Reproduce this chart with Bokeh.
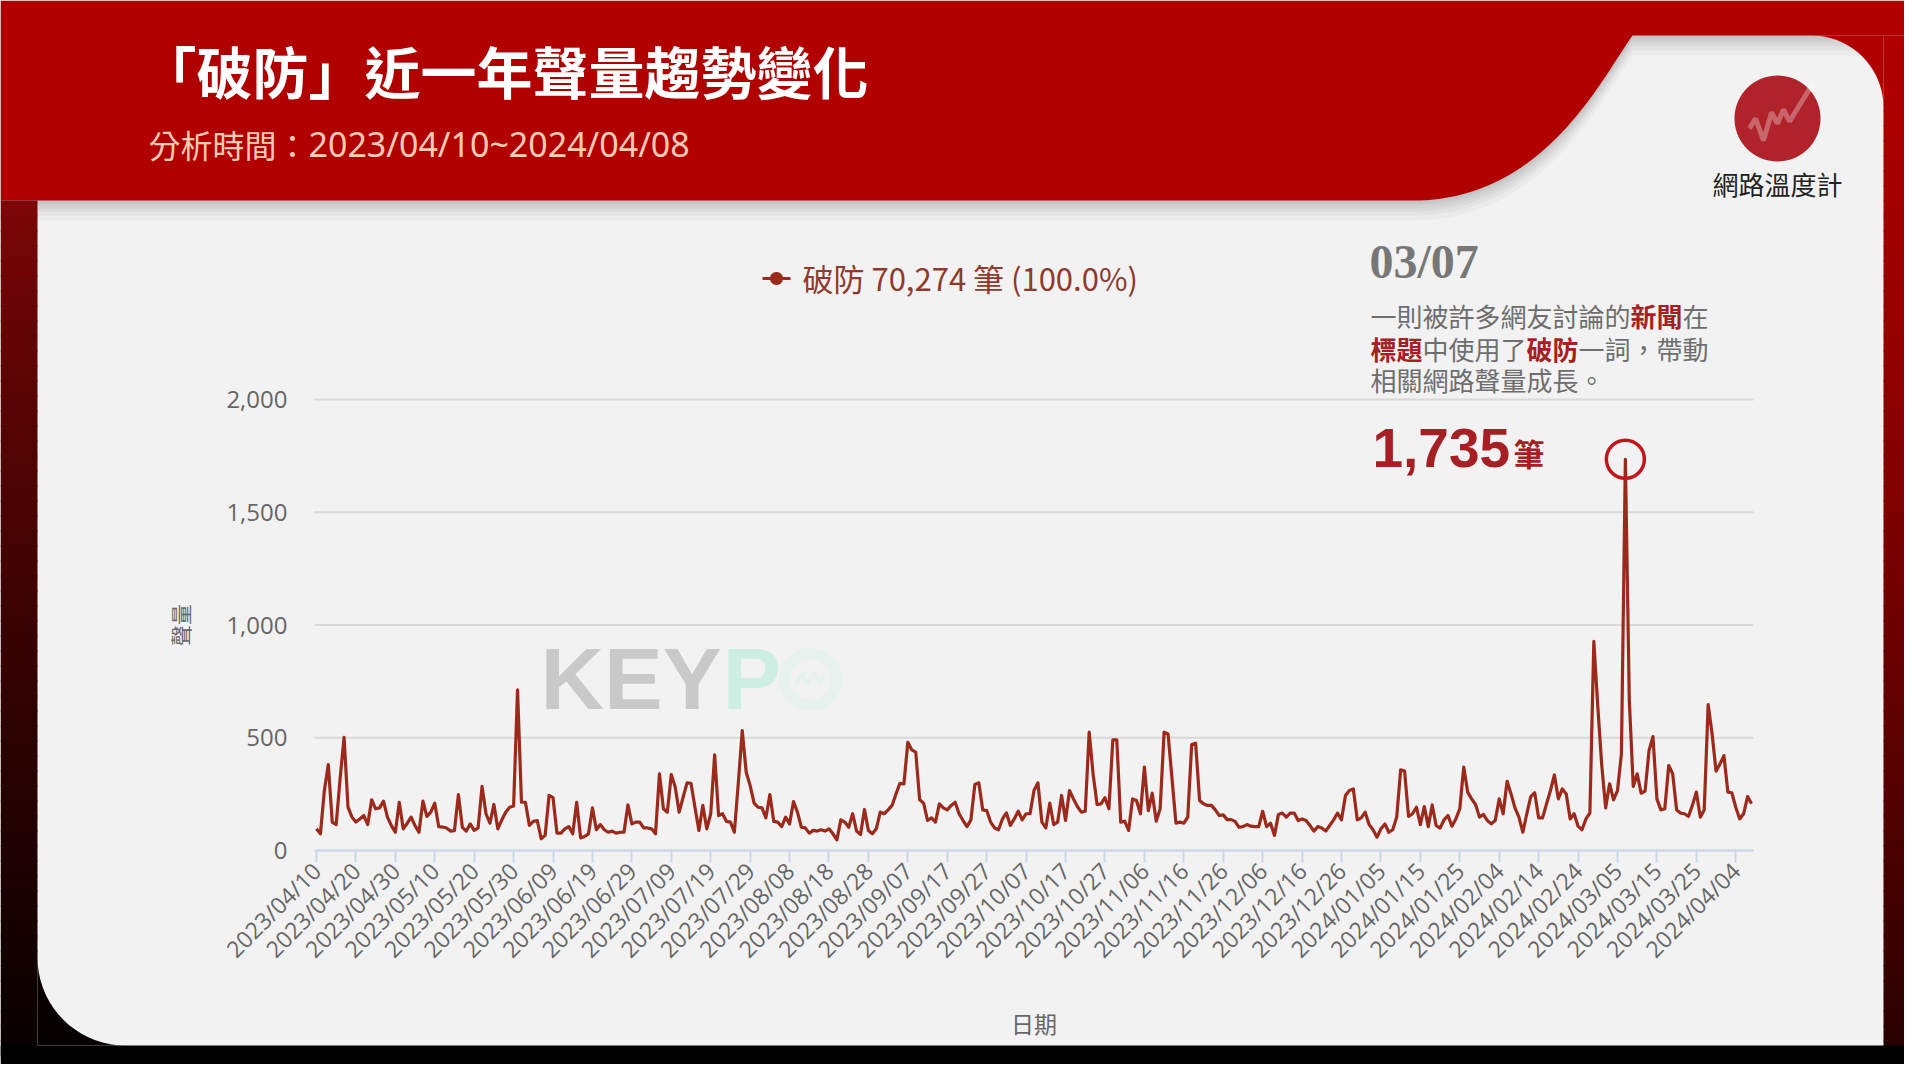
import math
import numpy as np
import pandas as pd
from bokeh.plotting import figure
from bokeh.models import (Range1d, FixedTicker, DatetimeTickFormatter,
                          NumeralTickFormatter, Label, PolyAnnotation, ColumnDataSource)
from bokeh.embed import file_html
from bokeh.resources import INLINE

# ---------------- data ----------------
start_date = "2023-04-10"
end_date = "2024-04-08"
volume = [
    96, 74, 266, 381, 126, 115, 320, 502, 192, 148,
    126, 140, 155, 115, 225, 185, 189, 219, 148, 110,
    81, 214, 96, 120, 148, 110, 81, 219, 151, 170,
    210, 106, 104, 100, 86, 88, 248, 103, 86, 118,
    89, 100, 284, 163, 121, 204, 96, 135, 170, 192,
    197, 712, 214, 214, 111, 129, 133, 52, 67, 244,
    234, 77, 77, 96, 106, 74, 214, 56, 62, 74,
    189, 92, 115, 92, 81, 86, 77, 81, 81, 202,
    118, 126, 126, 100, 100, 96, 74, 340, 185, 170,
    337, 281, 170, 236, 300, 298, 192, 89, 200, 96,
    163, 424, 155, 163, 129, 126, 81, 300, 532, 347,
    288, 210, 192, 189, 145, 248, 129, 126, 106, 148,
    118, 217, 170, 103, 100, 77, 89, 86, 92, 86,
    96, 74, 47, 136, 126, 103, 163, 86, 71, 182,
    89, 74, 96, 170, 163, 180, 200, 251, 298, 295,
    480, 446, 436, 225, 210, 133, 145, 126, 207, 189,
    180, 200, 214, 163, 133, 106, 136, 293, 300, 180,
    177, 126, 100, 92, 140, 167, 111, 140, 174, 136,
    163, 163, 266, 300, 126, 100, 210, 115, 126, 244,
    133, 266, 229, 195, 170, 174, 525, 337, 204, 207,
    234, 185, 491, 491, 126, 130, 89, 229, 222, 163,
    370, 177, 254, 130, 185, 525, 517, 320, 121, 126,
    121, 148, 470, 476, 222, 207, 200, 200, 180, 155,
    158, 137, 137, 129, 103, 106, 115, 108, 106, 106,
    174, 106, 121, 67, 160, 166, 148, 166, 166, 133,
    140, 133, 111, 86, 106, 100, 86, 111, 136, 166,
    136, 244, 266, 273, 136, 145, 170, 115, 92, 59,
    96, 118, 81, 92, 148, 358, 352, 151, 163, 192,
    115, 195, 106, 202, 111, 99, 136, 155, 108, 140,
    185, 370, 259, 229, 204, 148, 160, 133, 118, 133,
    229, 163, 307, 251, 189, 148, 81, 163, 239, 256,
    145, 145, 207, 266, 335, 229, 273, 251, 140, 163,
    108, 92, 140, 166, 927, 640, 380, 189, 296, 225,
    266, 429, 1735, 665, 284, 340, 254, 263, 443, 505,
    229, 180, 185, 377, 340, 180, 166, 163, 151, 200,
    259, 148, 180, 647, 517, 352, 384, 421, 259, 256,
    192, 140, 163, 239, 207,
]
y_ticks = [0, 500, 1000, 1500, 2000]
tick_every_days = 10
series_name = "破防"
series_total = "70,274"
series_share = "(100.0%)"
title_text = "「破防」近一年聲量趨勢變化"
subtitle_head = "分析時間："
subtitle_range = "2023/04/10~2024/04/08"
brand_text = "網路溫度計"
note_date = "03/07"
note_unit = "筆"
x_axis_title = "日期"
y_axis_title = "聲量"

# ---------------- layout (reference pixel space) ----------------
W, H = 1904, 1064
OX, OY = 0, 0
FL, FR, FT, FB = 314, 1753, 399, 850   # chart area in reference pixels

RED = "#b00000"
LINE = "#9c2a1c"
NOTE_RED = "#a51f24"
GRAY = "#6e6e6e"

dates = pd.date_range(start_date, end_date, freq="D")
ms = dates.values.astype("datetime64[ms]").astype(np.int64).astype(float)
DAY = 86400000.0
x0, x1 = ms[0] - DAY / 2, ms[-1] + DAY / 2
y0, y1 = y_ticks[0], y_ticks[-1]
kx = (x1 - x0) / (FR - FL)
ky = (y1 - y0) / (FB - FT)


def fx(X):
    return x0 + (X - FL) * kx


def fy(Y):
    return y0 + (FB - Y) * ky


src = ColumnDataSource(dict(date=dates, volume=volume))

p = figure(width=W, height=H, x_axis_type="datetime", title=None,
           output_backend="svg", toolbar_location=None,
           x_range=Range1d(fx(OX), fx(OX + W)), y_range=Range1d(fy(OY + H), fy(OY)),
           min_border=0)
p.min_border_left = p.min_border_right = p.min_border_top = p.min_border_bottom = 0
p.background_fill_color = "#f2f2f2"
p.border_fill_color = "#f2f2f2"
p.outline_line_color = None
p.xgrid.visible = False
p.ygrid.visible = False


def label(X, Y, text, size, color, font="Noto Sans CJK TC", bold=False,
          align="left", baseline="middle", level="annotation"):
    p.add_layout(Label(x=fx(X), y=fy(Y), text=text, text_font_size=f"{size}px",
                       text_color=color, text_font=font,
                       text_font_style="bold" if bold else "normal",
                       text_align=align, text_baseline=baseline, level=level))


def poly(pts, color, alpha=1.0, line_color=None, line_width=0, level="image"):
    p.add_layout(PolyAnnotation(xs=[fx(a) for a, b in pts], ys=[fy(b) for a, b in pts],
                                fill_color=color, fill_alpha=alpha,
                                line_color=line_color, line_width=line_width, level=level))


def circle_pts(cx, cy, r, n=72):
    return [(cx + r * math.cos(2 * math.pi * k / n), cy + r * math.sin(2 * math.pi * k / n)) for k in range(n)]


def bezier(p0, p1, p2, p3, n=40):
    out = []
    for k in range(n + 1):
        t = k / n
        a, b, c, d = (1 - t) ** 3, 3 * (1 - t) ** 2 * t, 3 * (1 - t) * t ** 2, t ** 3
        out.append((a * p0[0] + b * p1[0] + c * p2[0] + d * p3[0],
                    a * p0[1] + b * p1[1] + c * p2[1] + d * p3[1]))
    return out


def mix(c0, c1, t):
    return "#%02x%02x%02x" % tuple(int(round(c0[i] + (c1[i] - c0[i]) * t)) for i in range(3))


# ---------------- background decoration ----------------
CARD_L, CARD_R, CARD_B, CARD_T = 37, 1883, 1045, 35
curve = bezier((1632, CARD_T), (1600, 80), (1545, 195), (1420, 200))
banner = [(0, 0), (1920, 0), (1920, CARD_T)] + curve + [(0, 200)]
for dy in (20, 15, 11, 8, 5, 3):
    poly([(x, y + dy) for x, y in banner], "#000000", alpha=0.03)
poly(banner, RED)

for i in range(0, 1045 - CARD_T, 15):
    ya = CARD_T + i
    t = i / (1045 - CARD_T)
    col = mix((176, 0, 0), (40, 0, 0), t ** 1.3)
    poly([(CARD_R, ya), (1920, ya), (1920, ya + 16), (CARD_R, ya + 16)], col)
for i in range(0, 1045 - 200, 15):
    ya = 200 + i
    t = i / (1045 - 200)
    col = mix((125, 6, 6), (8, 0, 0), t ** 0.8)
    poly([(0, ya), (CARD_L, ya), (CARD_L, ya + 16), (0, ya + 16)], col)
poly([(0, CARD_B), (1920, CARD_B), (1920, 1080), (0, 1080)], "#000000")
R1 = 72
c1x, c1y = CARD_R - R1, CARD_T + R1
tr = [(CARD_R, CARD_T)] + [(c1x + R1 * math.cos(math.radians(a)), c1y - R1 * math.sin(math.radians(a)))
                          for a in range(0, 91, 5)]
poly(tr, "#b00000")
R2 = 88
c2x, c2y = CARD_L + R2, CARD_B - R2
bl = [(CARD_L, CARD_B)] + [(c2x + R2 * math.cos(math.radians(a)), c2y - R2 * math.sin(math.radians(a)))
                          for a in range(180, 271, 5)]
poly(bl, "#060000")

# brand logo
poly(circle_pts(1777, 118, 43), "#b1232a", level="underlay")
zig = [(-28, 10), (-22, 0), (-14, 22), (-6, -6), (0, 5), (6, -9), (12, 3), (36, -36)]
zig_pts = [(1777 + a, 118 + b) for a, b in zig]
poly(zig_pts + zig_pts[::-1], "#ffffff", alpha=0, line_color="#ffffff", line_width=5, level="underlay")
label(1777, 183, brand_text, 26, "#222222", align="center")

# titles
label(140, 69, title_text, 56, "#ffffff", bold=True)
label(148, 143, subtitle_head, 32, "#ffcbb6")
label(308, 143, subtitle_range, 34, "#ffcbb6", font="Noto Sans")

# watermark
label(540, 678, "KEY", 88, "#c9c9c9", font="Liberation Sans", bold=True, level="underlay")
label(722, 678, "P", 88, "#cdeee2", font="Liberation Sans", bold=True, level="underlay")
poly(circle_pts(810, 679, 26), "#cdeee2", alpha=0, line_color="#cdeee2", line_width=11, level="underlay")
mz = [(-15, 6), (-9, -6), (-3, 5), (3, -8), (9, 4), (14, -6)]
mz_pts = [(810 + a, 679 + b) for a, b in mz]
poly(mz_pts + mz_pts[::-1], "#cdeee2", alpha=0, line_color="#cdeee2", line_width=3, level="underlay")

# legend (manual)
poly([(762, 276.5), (790, 276.5), (790, 279.5), (762, 279.5)], LINE, level="annotation")
poly(circle_pts(776, 278, 6.5, 36), LINE, level="annotation")
label(802, 277, f"{series_name} {series_total} {note_unit} {series_share}", 31, "#8e3a2c")

# annotation note
label(1369, 261, note_date, 48, "#777777", font="Liberation Serif", bold=True)
FS = 26
segments = [
    [("一則被許多網友討論的", GRAY, False), ("新聞", NOTE_RED, True), ("在", GRAY, False)],
    [("標題", NOTE_RED, True), ("中使用了", GRAY, False), ("破防", NOTE_RED, True), ("一詞，帶動", GRAY, False)],
    [("相關網路聲量成長。", GRAY, False)],
]
for row, ly in zip(segments, (315, 348, 379)):
    cx = 1370
    for txt, col, b in row:
        label(cx, ly, txt, FS, col, bold=b)
        cx += FS * len(txt)

i_peak = int(np.argmax(volume))
label(1372, 447, f"{volume[i_peak]:,}", 55, NOTE_RED, font="Liberation Sans", bold=True)
label(1513, 452, note_unit, 31, NOTE_RED, bold=True)

# ---------------- chart ----------------
p.segment(x0=[x0] * len(y_ticks), x1=[x1] * len(y_ticks), y0=y_ticks, y1=y_ticks,
          line_color="#d9d9d9", line_width=2, level="underlay")
p.line("date", "volume", source=src, line_color=LINE, line_width=3.2, line_join="round")
p.scatter(x=[dates[i_peak]], y=[volume[i_peak]], size=38, marker="circle",
          fill_color=None, line_color="#c4141c", line_width=3.5)

xa = p.xaxis[0]
xa.fixed_location = y0
xa.bounds = (x0, x1)
xa.ticker = FixedTicker(ticks=list(ms[::tick_every_days]))
fmt = "%Y/%m/%d"
xa.formatter = DatetimeTickFormatter(days=fmt, months=fmt, years=fmt, hours=fmt,
                                     hourmin=fmt, minutes=fmt, minsec=fmt, seconds=fmt,
                                     milliseconds=fmt, microseconds=fmt)
xa.major_label_orientation = math.pi / 4
xa.major_label_text_font = "Open Sans"
xa.major_label_text_font_size = "23px"
xa.major_label_text_color = "#666666"
xa.axis_line_color = "#ccd6eb"
xa.axis_line_width = 2
xa.major_tick_line_color = "#ccd6eb"
xa.major_tick_line_width = 2
xa.major_tick_out = 12
xa.major_tick_in = 0
xa.minor_tick_line_color = None
xa.major_label_standoff = 4
xa.axis_label = x_axis_title
xa.axis_label_text_font = "Noto Sans CJK TC"
xa.axis_label_text_font_style = "normal"
xa.axis_label_text_font_size = "23px"
xa.axis_label_text_color = "#666666"
xa.axis_label_standoff = 28

ya_ = p.yaxis[0]
ya_.fixed_location = x0
ya_.bounds = (y0, y1)
ya_.ticker = FixedTicker(ticks=y_ticks)
ya_.formatter = NumeralTickFormatter(format="0,0")
ya_.major_label_text_font = "Open Sans"
ya_.major_label_text_font_size = "24px"
ya_.major_label_text_color = "#666666"
ya_.axis_line_color = None
ya_.major_tick_line_color = None
ya_.minor_tick_line_color = None
ya_.major_tick_out = 0
ya_.major_tick_in = 0
ya_.major_label_standoff = 27
ya_.axis_label = y_axis_title
ya_.axis_label_text_font = "Noto Sans CJK TC"
ya_.axis_label_text_font_style = "normal"
ya_.axis_label_text_font_size = "21px"
ya_.axis_label_text_color = "#666666"
ya_.axis_label_standoff = 28

open("out.html", "w").write(file_html(p, INLINE))
